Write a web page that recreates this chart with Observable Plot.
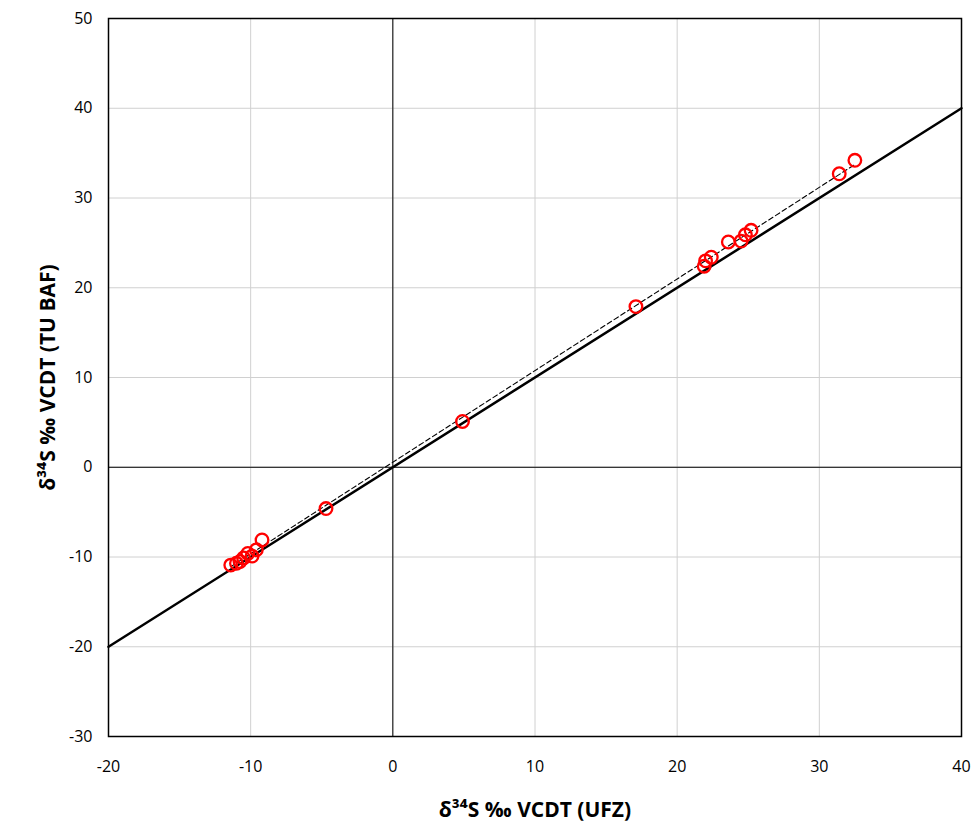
<!DOCTYPE html>
<html>
<head>
<meta charset="utf-8">
<script src="https://cdn.jsdelivr.net/npm/d3@7"></script>
<script src="https://cdn.jsdelivr.net/npm/@observablehq/plot@0.6"></script>
<style>
  html, body { margin: 0; padding: 0; background: #fff; }
  #chart svg { display: block; font-family: "Open Sans", "Noto Sans", sans-serif; }
</style>
</head>
<body>
<div id="chart"></div>
<script>
// δ34S values (‰ VCDT) measured by UFZ (x) and TU BAF (y)
const ufz   = [32.5, 31.4, 25.2, 24.8, 24.5, 23.6, 22.4, 22.0, 21.9, 17.1, 4.9, -4.7, -9.2, -9.6, -9.9, -10.2, -10.5, -10.75, -11.0, -11.4];
const tubaf = [34.2, 32.7, 26.4, 25.9, 25.2, 25.1, 23.4, 23.0, 22.4, 17.9, 5.1, -4.6, -8.1, -9.2, -9.9, -9.6, -10.1, -10.5, -10.7, -10.9];
// 1:1 reference line
const oneToOneX = [-20, 40];
const oneToOneY = [-20, 40];
const xTicks = [-20, -10, 0, 10, 20, 30, 40];
const yTicks = [-30, -20, -10, 0, 10, 20, 30, 40, 50];
const xLabel = "δ³⁴S ‰ VCDT (UFZ)";
const yLabel = "δ³⁴S ‰ VCDT (TU BAF)";

const pts = ufz.map((x, i) => ({x, y: tubaf[i]}));
const diag = oneToOneX.map((x, i) => ({x, y: oneToOneY[i]}));
const fmt = d => String(d);

const chart = Plot.plot({
  width: 972,
  height: 828,
  marginLeft: 108,
  marginRight: 11,
  marginTop: 18,
  marginBottom: 92,
  style: {fontSize: "16px", color: "#000", background: "#fff"},
  x: {domain: [-20, 40], ticks: xTicks, label: null},
  y: {domain: [-30, 50], ticks: yTicks, label: null},
  marks: [
    Plot.gridX(xTicks, {stroke: "#d0d0d0", strokeOpacity: 1, strokeWidth: 1}),
    Plot.gridY(yTicks, {stroke: "#d0d0d0", strokeOpacity: 1, strokeWidth: 1}),
    Plot.ruleX([0], {stroke: "#000", strokeWidth: 1}),
    Plot.ruleY([0], {stroke: "#000", strokeWidth: 1}),
    Plot.axisX(xTicks, {tickSize: 0, tickPadding: 24, fontSize: 16, tickFormat: fmt, label: xLabel, labelAnchor: "center", labelArrow: "none", labelOffset: 80}),
    Plot.axisY(yTicks, {tickSize: 0, tickPadding: 16, fontSize: 16, tickFormat: fmt, label: yLabel, labelAnchor: "center", labelArrow: "none", labelOffset: 68}),
    Plot.line(diag, {x: "x", y: "y", stroke: "#000", strokeWidth: 2.5}),
    Plot.linearRegressionY(pts, {x: "x", y: "y", stroke: "#000", strokeWidth: 1.1, strokeDasharray: "5,3", ci: 0}),
    Plot.dot(pts, {x: "x", y: "y", r: 6.3, stroke: "#ff0000", strokeWidth: 2.3, fill: "none"}),
    Plot.frame({stroke: "#000", strokeWidth: 1.5})
  ]
});
document.getElementById("chart").appendChild(chart);
// make axis labels bold and larger
chart.querySelectorAll("[aria-label='x-axis label'] text, [aria-label='y-axis label'] text").forEach(t => {
  t.setAttribute("font-weight", "bold");
  t.setAttribute("font-size", "21px");
});
</script>
</body>
</html>
